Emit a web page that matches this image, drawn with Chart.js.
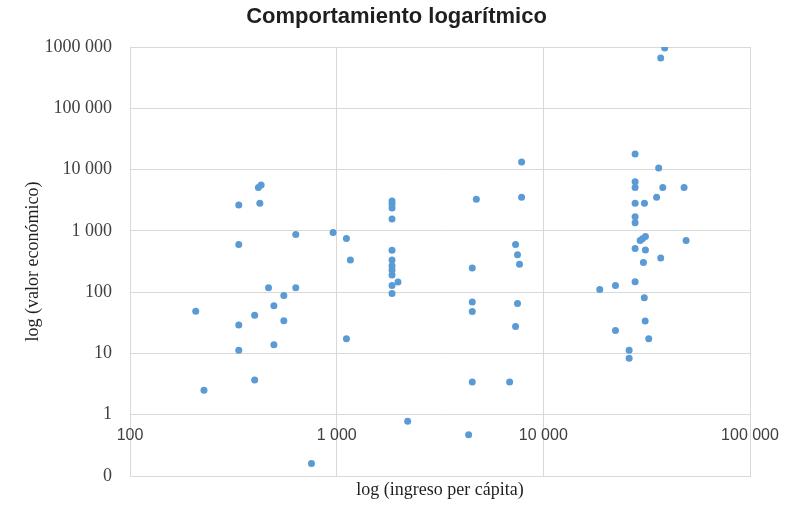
<!DOCTYPE html>
<html>
<head>
<meta charset="utf-8">
<script src="https://cdn.jsdelivr.net/npm/chart.js@4.4.0/dist/chart.umd.min.js"></script>
<style>
    html, body { margin: 0; padding: 0; background: #fff; }
    #wrap { width: 793px; height: 505px; }
</style>
</head>
<body>
<div id="wrap"><canvas id="logChart" width="793" height="505"></canvas></div>
<script>
// Values (x = ingreso per cápita, y = valor económico)
const incomePerCapita = [
    208, 228, 336, 336, 336, 336, 401, 401, 418, 431, 425, 468, 497, 497, 555, 555,
    634, 634, 755, 961, 1115, 1115, 1165,
    1853, 1853, 1853, 1853, 1853, 1853, 1853, 1853, 1853, 1980, 1853, 1853,
    2206, 4350, 4530, 4530, 4530, 4530, 4740, 6870, 7340, 7500, 7670, 7500, 7340, 7850, 7850,
    18750, 22340, 22340, 26010, 26010,
    27800, 27800, 27800, 27800, 27800, 27800, 27800, 27800,
    29400, 30170, 30500, 31190, 30850, 30800, 31190, 31100, 32360,
    35320, 36150, 36980, 37840, 38650, 36980, 47970, 49070
];
const economicValue = [
    49, 2.5, 2650, 600, 29, 11.3, 42, 3.7, 5100, 5600, 2820, 118, 60, 13.9, 88, 34,
    870, 118, 0.16, 940, 750, 17.4, 335,
    3070, 2750, 2360, 1560, 482, 335, 270, 230, 191, 147, 128, 95,
    0.78, 0.47, 248, 69, 48.4, 3.43, 3280, 3.43, 600, 409, 285, 65, 27.4, 13300, 3530,
    110, 128, 23.6, 11.3, 8.35,
    17970, 6350, 5100, 2820, 1700, 1360, 516, 148,
    697, 746, 305, 811, 2820, 81, 485, 33.7, 17.4,
    3530, 10620, 361, 5100, 963000, 662000, 5100, 697
];

const xTickValues = [100, 1000, 10000, 100000];
const xTickLabels = ['100', '1 000', '10 000', '100 000'];
const yTickValues = [0.1, 1, 10, 100, 1000, 10000, 100000, 1000000];
const yTickLabels = ['0', '1', '10', '100', '1 000', '10 000', '100 000', '1000 000'];

const points = incomePerCapita.map((x, i) => ({ x: x, y: economicValue[i] }));

const gridColor = '#d9d9d9';
const textColor = '#404040';
const serif = '"Liberation Serif", "Times New Roman", serif';

// x labels sit on the y = 1 line, like the original
const xLabelsAtOne = {
    id: 'xLabelsAtOne',
    afterDraw(chart) {
        const { ctx, scales: { x, y } } = chart;
        const yPos = y.getPixelForValue(1) + 21;
        ctx.save();
        ctx.font = '16px "Liberation Sans", Arial, sans-serif';
        ctx.fillStyle = textColor;
        ctx.textAlign = 'center';
        ctx.textBaseline = 'middle';
        xTickValues.forEach((v, i) => {
            ctx.fillText(xTickLabels[i], x.getPixelForValue(v), yPos);
        });
        ctx.restore();
    }
};

const ctx = document.getElementById('logChart').getContext('2d');
new Chart(ctx, {
    type: 'scatter',
    data: {
        datasets: [{
            data: points,
            backgroundColor: '#5b9bd5',
            borderWidth: 0,
            pointRadius: 3.5
        }]
    },
    options: {
        responsive: false,
        animation: false,
        layout: { padding: 0 },
        plugins: {
            legend: { display: false },
            tooltip: { enabled: false },
            title: {
                display: true,
                text: 'Comportamiento logarítmico',
                color: '#1f1f1f',
                font: { family: '"Liberation Sans", Arial, sans-serif', size: 22, weight: 'bold' },
                padding: { top: 4, bottom: 16.6 }
            }
        },
        scales: {
            x: {
                type: 'logarithmic',
                min: 100,
                max: 100000,
                afterBuildTicks: function(scale) {
                    scale.ticks = xTickValues.map(v => ({ value: v }));
                },
                afterFit: function(scale) { scale.height = 29; },
                ticks: { display: false },
                grid: { color: gridColor, drawTicks: false },
                border: { color: gridColor },
                title: {
                    display: true,
                    text: 'log (ingreso per cápita)',
                    color: '#1f1f1f',
                    font: { family: serif, size: 18 },
                    padding: { top: 0, bottom: 4 }
                }
            },
            y: {
                type: 'logarithmic',
                min: 0.1,
                max: 1000000,
                afterBuildTicks: function(scale) {
                    scale.ticks = yTickValues.map(v => ({ value: v }));
                },
                afterFit: function(scale) { scale.width = 130; },
                ticks: {
                    color: textColor,
                    font: { family: serif, size: 18 },
                    padding: 18,
                    callback: function(value) {
                        const idx = yTickValues.indexOf(value);
                        return idx >= 0 ? yTickLabels[idx] : '';
                    }
                },
                grid: { color: gridColor, drawTicks: false },
                border: { color: gridColor },
                title: {
                    display: true,
                    text: 'log (valor económico)',
                    color: '#1f1f1f',
                    font: { family: serif, size: 18 },
                    padding: { top: 22, bottom: 0 }
                }
            },
            // empty right axis, only reserves the white margin right of the plot
            yRight: {
                type: 'linear',
                position: 'right',
                min: 0,
                max: 1,
                afterFit: function(scale) { scale.width = 43; },
                ticks: { display: false },
                grid: { display: false, drawTicks: false },
                border: { display: false }
            }
        }
    },
    plugins: [xLabelsAtOne]
});
</script>
</body>
</html>
